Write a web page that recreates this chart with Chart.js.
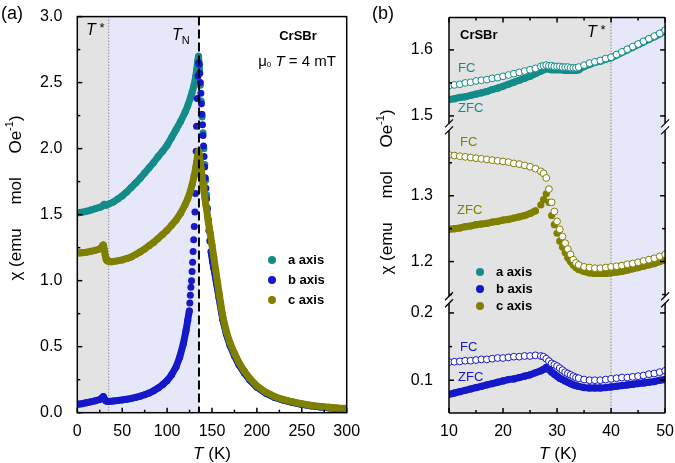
<!DOCTYPE html>
<html>
<head>
<meta charset="utf-8">
<script src="https://cdn.jsdelivr.net/npm/chart.js@4.4.1/dist/chart.umd.min.js"></script>
<style>
html, body { margin: 0; padding: 0; background: #fff; }
#boxA { position: absolute; left: 0; top: 0; width: 370px; height: 463px; }
#boxB { position: absolute; left: 370px; top: 0; width: 305px; height: 463px; }
</style>
</head>
<body>
<div id="boxA"><canvas id="chiA" width="370" height="463" style="width:370px;height:463px"></canvas></div>
<div id="boxB"><canvas id="chiB" width="305" height="463" style="width:305px;height:463px"></canvas></div>
<script>
// ---- panel (a): chi(T), 0-300 K ----
const tA_a = [2,5,10,15,20,25,28,30,32,35, 40,45,50,55,60,65,70,75,80,85, 90,95,100,105,110,115,120,123,126,128,
  130,132,133,134,135,136,137,138,139,140, 141,142,143,144,145,146,147,148,150,152, 155,158,162,166,170,175,180,186,192,200,
  210,220,230,240,250,260,270,280,290,300];
const chiA_a = [1.515,1.518,1.525,1.535,1.545,1.555,1.565,1.578,1.572,1.58, 1.595,1.618,1.642,1.672,1.705,1.74,1.775,1.815,1.855,1.895,
  1.94,1.98,2.025,2.085,2.145,2.205,2.275,2.325,2.385,2.43, 2.48,2.55,2.6,2.66,2.70,2.6,2.48,2.36,2.24,2.12,
  2.0,1.88,1.76,1.65,1.55,1.46,1.38,1.31,1.19,1.10, 0.98,0.865,0.705,0.595,0.51,0.43,0.362,0.3,0.248,0.193,
  0.147,0.115,0.094,0.077,0.063,0.052,0.044,0.037,0.031,0.026];

const tA_b = [2,5,10,15,20,25,28,29,30,32, 35,40,45,50,55,60,65,70,75,80, 85,90,95,100,105,110,114,118,121,123,
  124.7,125.3,125.9,126.5,127.2,127.8,128.4,129,129.6,130.3, 131,131.6,132,132.4,132.8,133.6,134.5,135.2,135.8,136.4,
  137,137.6,138.2,138.8,139.4,140,140.6,141.2,141.8,142.5, 143.2,144,144.8,145.7,146.6,147.6,149,150.5,152,155,
  158,162,166,170,175,180,186,192,200,210, 220,230,240,250,260,270,280,290,300];
const chiA_b = [0.065,0.068,0.075,0.082,0.09,0.1,0.115,0.122,0.105,0.088, 0.085,0.088,0.092,0.097,0.102,0.108,0.116,0.125,0.136,0.149,
  0.166,0.187,0.212,0.243,0.287,0.347,0.42,0.52,0.62,0.7, 0.77,0.83,0.89,0.95,1.0,1.07,1.14,1.22,1.31,1.41,
  1.52,1.66,1.82,1.98,2.17,2.38,2.55,2.65,2.64,2.57, 2.5,2.42,2.34,2.26,2.18,2.1,2.02,1.94,1.86,1.78,
  1.7,1.62,1.54,1.46,1.38,1.3,1.22,1.15,1.1,0.99, 0.87,0.71,0.6,0.515,0.435,0.367,0.303,0.25,0.195,0.149,
  0.116,0.095,0.078,0.064,0.053,0.045,0.038,0.032,0.027];

const tA_c = [2,5,10,15,20,24,26,27,28,29, 30,31,32,33,35,38,40,45,50,55, 60,65,70,75,80,85,90,95,100,105,
  110,115,120,123,126,128,130,132,133,134, 135,136,137,138,139,140,141,142,143,144, 145,146,147,148,150,152,155,158,162,166,
  170,175,180,186,192,200,210,220,230,240, 250,260,270,280,290,300];
const chiA_c = [1.21,1.212,1.215,1.222,1.23,1.238,1.245,1.252,1.265,1.27, 1.235,1.195,1.165,1.152,1.145,1.143,1.145,1.15,1.157,1.167,
  1.18,1.198,1.218,1.24,1.265,1.29,1.32,1.35,1.382,1.42, 1.46,1.51,1.575,1.62,1.68,1.73,1.79,1.86,1.9,1.95,
  1.98,1.95,1.9,1.85,1.79,1.73,1.68,1.63,1.58,1.54, 1.49,1.44,1.40,1.36,1.27,1.18,1.04,0.9,0.73,0.615,
  0.53,0.45,0.38,0.315,0.26,0.203,0.155,0.121,0.099,0.082, 0.068,0.057,0.048,0.041,0.035,0.031];

// ---- panel (b): FC / ZFC, 10-50 K ----
const tB = [10,11,12,13,14,15,16,17,18,19, 20,21,22,23,24,25,26,27,27.5,28, 28.5,29,29.5,30,30.5,31,31.5,32,32.5,33,
  33.5,34,35,36,37,38,39,40,41,42, 43,44,45,46,47,48,49,50];
const aFC = [1.546,1.547,1.548,1.550,1.551,1.553,1.554,1.555,1.557,1.558, 1.560,1.562,1.564,1.566,1.568,1.570,1.572,1.575,1.576,1.577,
  1.576,1.576,1.575,1.575,1.575,1.574,1.574,1.574,1.573,1.573, 1.573,1.574,1.577,1.580,1.582,1.584,1.587,1.589,1.593,1.597,
  1.601,1.605,1.609,1.613,1.617,1.621,1.625,1.630];
const aZFC = [1.525,1.526,1.528,1.529,1.531,1.533,1.535,1.537,1.540,1.542, 1.545,1.548,1.551,1.554,1.557,1.560,1.564,1.568,1.570,1.572,
  1.571,1.570,1.570,1.570,1.570,1.570,1.569,1.569,1.569,1.569, 1.569,1.570,1.575,1.578,1.581,1.583,1.586,1.588,1.592,1.596,
  1.600,1.604,1.608,1.612,1.616,1.620,1.624,1.629];
const cFC = [1.362,1.361,1.360,1.359,1.358,1.357,1.356,1.355,1.354,1.353, 1.352,1.351,1.349,1.348,1.346,1.344,1.341,1.337,1.334,1.327,
  1.310,1.290,1.276,1.261,1.249,1.238,1.228,1.219,1.211,1.203, 1.198,1.195,1.192,1.191,1.190,1.190,1.191,1.192,1.193,1.194,
  1.196,1.197,1.199,1.201,1.203,1.205,1.208,1.211];
const cZFC = [1.249,1.250,1.251,1.253,1.254,1.256,1.257,1.258,1.260,1.261, 1.263,1.264,1.266,1.268,1.270,1.273,1.277,1.286,1.294,1.303,
  1.290,1.270,1.256,1.243,1.231,1.222,1.214,1.206,1.200,1.195, 1.191,1.188,1.185,1.183,1.182,1.182,1.182,1.183,1.184,1.185,
  1.187,1.189,1.191,1.193,1.195,1.197,1.200,1.203];
const bFC = [0.127,0.1275,0.128,0.129,0.129,0.130,0.131,0.131,0.132,0.133, 0.133,0.134,0.135,0.135,0.136,0.136,0.137,0.136,0.135,0.132,
  0.1285,0.125,0.123,0.121,0.118,0.115,0.112,0.110,0.108,0.106, 0.104,0.103,0.101,0.100,0.100,0.100,0.101,0.102,0.103,0.104,
  0.104,0.105,0.106,0.107,0.109,0.110,0.112,0.114];
const bZFC = [0.079,0.081,0.083,0.085,0.087,0.089,0.091,0.093,0.095,0.097, 0.099,0.101,0.102,0.104,0.106,0.108,0.111,0.114,0.116,0.119,
  0.116,0.112,0.109,0.106,0.103,0.101,0.099,0.097,0.095,0.093, 0.092,0.091,0.089,0.0885,0.0885,0.0885,0.089,0.090,0.091,0.092,
  0.093,0.094,0.095,0.096,0.097,0.098,0.100,0.101];

// ticks
const xMajA = [0,50,100,150,200,250,300], xMinA = [25,75,125,175,225,275];
const yMajA = [0,0.5,1,1.5,2,2.5,3], yMinA = [0.25,0.75,1.25,1.75,2.25,2.75];
const xMajB = [10,20,30,40,50], xMinB = [15,25,35,45];
const yTopMaj = [1.5,1.6], yTopMin = [1.55];
const yMidMaj = [1.2,1.3], yMidMin = [1.15,1.25,1.35];
const yBotMaj = [0.1,0.2], yBotMin = [0.15];

const tStarA = 35, tNeel = 135.5, tStarB = 40;

const FONT = '"Liberation Sans", Arial, sans-serif';
const TEAL = '#138c89', BLUE = '#1418c8', OLIVE = '#808000';
const SHADE_GRAY = '#e3e3e3', SHADE_BLUE = '#e6e8fa';
const NONE = 'rgba(0,0,0,0)';

function pts(ts, vs) { return ts.map((t, i) => ({x: t, y: vs[i]})); }

function rich(ctx, x, y, parts, align) {
  let w = 0;
  parts.forEach(p => { ctx.font = p[1]; w += ctx.measureText(p[0]).width; });
  let cx = align === 'center' ? x - w / 2 : x;
  parts.forEach(p => {
    ctx.font = p[1];
    ctx.fillText(p[0], cx, y + (p[2] || 0));
    cx += ctx.measureText(p[0]).width;
  });
}

function line(ctx, x0, y0, x1, y1) {
  ctx.beginPath(); ctx.moveTo(x0, y0); ctx.lineTo(x1, y1); ctx.stroke();
}

function xTicks(ctx, sc, ca, vals, len, top) {
  vals.forEach(v => {
    const px = sc.getPixelForValue(v);
    line(ctx, px, ca.bottom, px, ca.bottom - len);
    if (top) line(ctx, px, ca.top, px, ca.top + len);
  });
}
function yTicks(ctx, sc, ca, vals, len, right) {
  vals.forEach(v => {
    const py = sc.getPixelForValue(v);
    line(ctx, ca.left, py, ca.left + len, py);
    if (right) line(ctx, ca.right, py, ca.right - len, py);
  });
}

function yTitle(ctx, x, y) {
  ctx.save();
  ctx.translate(x, y);
  ctx.rotate(-Math.PI / 2);
  ctx.textBaseline = 'middle';
  rich(ctx, 0, 0, [['\u03c7 (emu     mol     Oe', '17px ' + FONT], ['-1', '11px ' + FONT, -6], [')', '17px ' + FONT]], 'center');
  ctx.restore();
}
function xTitle(ctx, x, y) {
  ctx.textBaseline = 'middle';
  rich(ctx, x, y, [['T', 'italic 17px ' + FONT], [' (K)', '17px ' + FONT]], 'center');
}
function legend(ctx, x, y0, dy) {
  [['a axis', TEAL], ['b axis', BLUE], ['c axis', OLIVE]].forEach((l, i) => {
    const y = y0 + i * dy;
    ctx.fillStyle = l[1];
    ctx.beginPath(); ctx.arc(x, y, 4, 0, Math.PI * 2); ctx.fill();
    ctx.fillStyle = '#000';
    ctx.font = 'bold 13px ' + FONT;
    ctx.textBaseline = 'middle';
    ctx.fillText(l[0], x + 16, y);
  });
}

const panelA = {
  id: 'panelA',
  beforeDatasetsDraw(chart) {
    const {ctx, chartArea: ca, scales: {x}} = chart;
    ctx.save();
    const x0 = x.getPixelForValue(0), x1 = x.getPixelForValue(tStarA), x2 = x.getPixelForValue(tNeel);
    ctx.fillStyle = SHADE_GRAY; ctx.fillRect(x0, ca.top, x1 - x0, ca.height);
    ctx.fillStyle = SHADE_BLUE; ctx.fillRect(x1, ca.top, x2 - x1, ca.height);
    ctx.strokeStyle = '#8a8a8a'; ctx.lineWidth = 1; ctx.setLineDash([1.5, 1.5]);
    line(ctx, x1, ca.top, x1, ca.bottom);
    ctx.restore();
  },
  afterDatasetsDraw(chart) {
    const {ctx, chartArea: ca, scales: {x, y}} = chart;
    ctx.save();
    ctx.strokeStyle = '#000'; ctx.lineWidth = 2; ctx.setLineDash([9, 4]);
    const xn = x.getPixelForValue(tNeel);
    line(ctx, xn, ca.top, xn, ca.bottom);
    ctx.setLineDash([]);
    ctx.lineWidth = 1.5;
    ctx.strokeRect(ca.left, ca.top, ca.width, ca.height);
    xTicks(ctx, x, ca, xMajA, 5, false); xTicks(ctx, x, ca, xMinA, 3, false);
    yTicks(ctx, y, ca, yMajA, 5, false); yTicks(ctx, y, ca, yMinA, 3, false);
    ctx.restore();
  },
  afterDraw(chart) {
    const ctx = chart.ctx;
    ctx.save();
    ctx.fillStyle = '#000';
    ctx.textBaseline = 'middle';
    rich(ctx, 1, 14, [['(a)', '18px ' + FONT]]);
    rich(ctx, 86, 31, [['T', 'italic 16px ' + FONT], [' *', '13px ' + FONT, -3]]);
    rich(ctx, 172, 36, [['T', 'italic 16px ' + FONT], ['N', '11px ' + FONT, 5]]);
    rich(ctx, 298, 36, [['CrSBr', 'bold 13px ' + FONT]], 'center');
    rich(ctx, 297, 62, [['\u03bc', '15px ' + FONT], ['0', '8px ' + FONT, 3], [' ', '15px ' + FONT],
      ['T', 'italic 15px ' + FONT], [' = 4 mT', '15px ' + FONT]], 'center');
    legend(ctx, 272, 260, 20);
    yTitle(ctx, 16, 198);
    xTitle(ctx, 212, 454);
    ctx.restore();
  }
};

const panelB = {
  id: 'panelB',
  beforeDatasetsDraw(chart) {
    const {ctx, chartArea: ca, scales: {x}} = chart;
    ctx.save();
    const x0 = x.getPixelForValue(10), x1 = x.getPixelForValue(tStarB), x2 = x.getPixelForValue(50);
    ctx.fillStyle = SHADE_GRAY; ctx.fillRect(x0, ca.top, x1 - x0, ca.height);
    ctx.fillStyle = SHADE_BLUE; ctx.fillRect(x1, ca.top, x2 - x1, ca.height);
    ctx.strokeStyle = '#8a8a8a'; ctx.lineWidth = 1; ctx.setLineDash([1.5, 1.5]);
    line(ctx, x1, ca.top, x1, ca.bottom);
    ctx.restore();
  },
  afterDatasetsDraw(chart) {
    const {ctx, chartArea: ca, scales: {x, yTop, yMid, yBot}} = chart;
    const breaks = [yTop.bottom, yMid.bottom];
    ctx.save();
    ctx.strokeStyle = '#000'; ctx.lineWidth = 1.5;
    line(ctx, ca.left, ca.top, ca.right, ca.top);
    line(ctx, ca.left, ca.bottom, ca.right, ca.bottom);
    [ca.left, ca.right].forEach(bx => {
      let y0 = ca.top;
      breaks.forEach(b => { line(ctx, bx, y0, bx, b - 3.5); y0 = b + 3.5; });
      line(ctx, bx, y0, bx, ca.bottom);
      ctx.lineWidth = 1.2;
      breaks.forEach(b => { [-3.5, 3.5].forEach(o => line(ctx, bx - 4, b + o + 4, bx + 4, b + o - 4)); });
      ctx.lineWidth = 1.5;
    });
    xTicks(ctx, x, ca, xMajB, 5, true); xTicks(ctx, x, ca, xMinB, 3, true);
    yTicks(ctx, yTop, ca, yTopMaj, 5, true); yTicks(ctx, yTop, ca, yTopMin, 3, true);
    yTicks(ctx, yMid, ca, yMidMaj, 5, true); yTicks(ctx, yMid, ca, yMidMin, 3, true);
    yTicks(ctx, yBot, ca, yBotMaj, 5, true); yTicks(ctx, yBot, ca, yBotMin, 3, true);
    ctx.restore();
  },
  afterDraw(chart) {
    const ctx = chart.ctx;
    ctx.save();
    ctx.textBaseline = 'middle';
    ctx.fillStyle = '#000';
    rich(ctx, 2, 14, [['(b)', '18px ' + FONT]]);
    rich(ctx, 90, 35, [['CrSBr', 'bold 13px ' + FONT]]);
    rich(ctx, 217, 33, [['T', 'italic 16px ' + FONT], [' *', '13px ' + FONT, -3]]);
    const f = '13px ' + FONT;
    ctx.fillStyle = TEAL; rich(ctx, 88, 68, [['FC', f]]); rich(ctx, 88, 108, [['ZFC', f]]);
    ctx.fillStyle = OLIVE; rich(ctx, 90, 142, [['FC', f]]); rich(ctx, 87, 210, [['ZFC', f]]);
    ctx.fillStyle = BLUE; rich(ctx, 90, 347, [['FC', f]]); rich(ctx, 88, 377, [['ZFC', f]]);
    legend(ctx, 110, 272, 17);
    ctx.fillStyle = '#000';
    yTitle(ctx, 17, 192);
    xTitle(ctx, 188, 454);
    ctx.restore();
  }
};

const tickFont = {family: FONT, size: 16};

// segment styling: measurement points around T_N are sparse, draw them as separate dots
function sparse(ts, lo, hi, color) {
  return {borderColor: c => (ts[c.p0DataIndex] >= lo && ts[c.p1DataIndex] <= hi) ? NONE : color};
}

function bandA(label, ts, vs, color, order, seg) {
  return {
    label, data: pts(ts, vs), order,
    borderColor: color, backgroundColor: color, borderWidth: 7,
    borderCapStyle: 'round', borderJoinStyle: 'round',
    pointRadius: 3.5, pointBorderWidth: 0, pointBackgroundColor: color,
    segment: seg
  };
}

new Chart(document.getElementById('chiA'), {
  type: 'line',
  data: {
    datasets: [
      bandA('a axis', tA_a, chiA_a, TEAL, 3, sparse(tA_a, 135.5, 150, TEAL)),
      bandA('b axis', tA_b, chiA_b, BLUE, 2, sparse(tA_b, 124.5, 149, BLUE)),
      bandA('c axis', tA_c, chiA_c, OLIVE, 1, undefined)
    ]
  },
  options: {
    responsive: false, animation: false, events: [],
    layout: {padding: {left: 0, top: 15, right: 23.3, bottom: 0}},
    plugins: {legend: {display: false}, tooltip: {enabled: false}},
    scales: {
      x: {
        type: 'linear', min: 0, max: 300,
        grid: {display: false}, border: {display: false},
        afterFit: s => { s.height = 50.3; },
        afterBuildTicks: s => { s.ticks = xMajA.map(v => ({value: v})); },
        ticks: {font: tickFont, color: '#000', padding: 1, maxRotation: 0}
      },
      y: {
        type: 'linear', min: 0, max: 3,
        grid: {display: false}, border: {display: false},
        afterFit: s => { s.width = 77.3; },
        afterBuildTicks: s => { s.ticks = yMajA.map(v => ({value: v})); },
        ticks: {font: tickFont, color: '#000', padding: 7, callback: v => v.toFixed(1)}
      }
    }
  },
  plugins: [panelA]
});

function fcSet(vs, color, axis) {
  return {
    data: pts(tB, vs), yAxisID: axis, order: 1, showLine: false,
    pointRadius: 3.4, pointBorderWidth: 1, pointBorderColor: color, pointBackgroundColor: '#fff'
  };
}
function zfcSet(vs, color, axis) {
  return {
    data: pts(tB, vs), yAxisID: axis, order: 2,
    borderColor: color, borderWidth: 7, borderCapStyle: 'round', borderJoinStyle: 'round',
    pointRadius: 3.6, pointBorderWidth: 0, pointBackgroundColor: color,
    segment: {borderColor: c => Math.abs(c.p1.y - c.p0.y) > 5 ? NONE : color}
  };
}
function yStack(weight, min, max, major) {
  return {
    type: 'linear', position: 'left', stack: 'chi', stackWeight: weight, min, max,
    grid: {display: false}, border: {display: false},
    afterFit: s => { s.width = 79; },
    afterBuildTicks: s => { s.ticks = major.map(v => ({value: v})); },
    ticks: {font: tickFont, color: '#000', padding: 8, callback: v => v.toFixed(1)}
  };
}

new Chart(document.getElementById('chiB'), {
  type: 'line',
  data: {
    datasets: [
      fcSet(aFC, TEAL, 'yTop'), zfcSet(aZFC, TEAL, 'yTop'),
      fcSet(cFC, OLIVE, 'yMid'), zfcSet(cZFC, OLIVE, 'yMid'),
      fcSet(bFC, BLUE, 'yBot'), zfcSet(bZFC, BLUE, 'yBot')
    ]
  },
  options: {
    responsive: false, animation: false, events: [],
    layout: {padding: {left: 0, top: 15, right: 7.7, bottom: 0}},
    plugins: {legend: {display: false}, tooltip: {enabled: false}},
    scales: {
      x: {
        type: 'linear', min: 10, max: 50,
        grid: {display: false}, border: {display: false},
        afterFit: s => { s.height = 50; },
        afterBuildTicks: s => { s.ticks = xMajB.map(v => ({value: v})); },
        ticks: {font: tickFont, color: '#000', padding: 1, maxRotation: 0}
      },
      yBot: yStack(114, 0.0513, 0.2196, yBotMaj),
      yMid: yStack(174, 1.1421, 1.4045, yMidMaj),
      yTop: yStack(110, 1.4834, 1.649, yTopMaj)
    }
  },
  plugins: [panelB]
});
</script>
</body>
</html>
